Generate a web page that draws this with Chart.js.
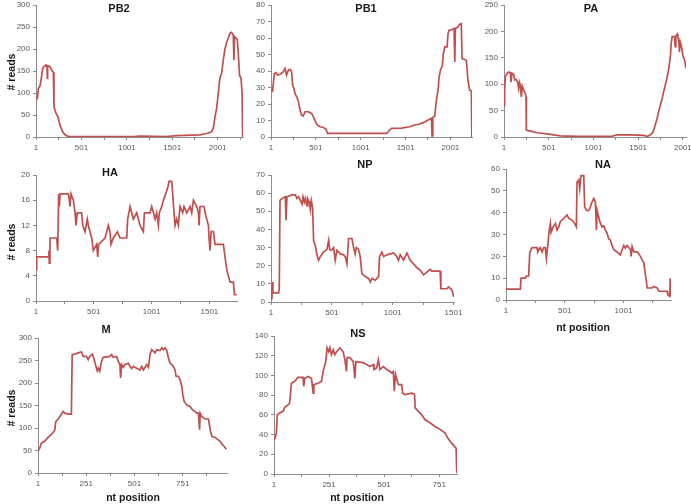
<!DOCTYPE html>
<html><head><meta charset="utf-8">
<script src="https://cdn.jsdelivr.net/npm/chart.js@4.4.1/dist/chart.umd.min.js"></script>
<style>
html,body{margin:0;padding:0;background:#fff;width:691px;height:504px;overflow:hidden;position:relative;}
canvas{position:absolute;}
</style></head><body>
<script>
// ---- data (nt position, # reads) ----
const pb2Pos = [1,16,27,45,60,74,89,111,122,126,129,155,173,192,199,221,243,265,295,320,357,1072,1146,1440,1550,1806,1880,1935,1953,1971,1990,2008,2026,2045,2063,2081,2100,2118,2136,2154,2173,2180,2187,2217,2231,2242,2258,2270,2276];
const pb2Reads = [85,88,110,116,134,156,160,164,158,133,162,160,152,147,69,54,46,27,12,5,1,1,2,1,3,5,8,12,20,45,65,100,135,145,175,200,215,225,236,238,232,175,228,222,180,140,134,100,0];

const pb1Pos = [1,19,38,57,75,101,138,157,175,194,213,231,242,257,268,287,305,324,342,361,380,417,454,472,491,517,546,584,613,632,1289,1307,1344,1456,1548,1604,1660,1697,1753,1790,1797,1805,1827,1845,1864,1875,1890,1912,1920,1938,1964,1975,1986,2012,2042,2050,2057,2086,2105,2123,2131,2179,2197,2216,2235,2240];
const pb1Reads = [29,28,38.5,39,37.5,38,39.5,41.5,37.5,40.5,41,39.5,31.4,29.4,26.4,24.4,22,16.3,13.3,12.7,15.3,15.3,14.3,12.3,9.9,7.3,6.2,5.8,4.8,2.2,2.2,3.2,5.2,5.4,6.2,7.3,7.9,8.7,10.3,11.3,0.6,11.9,12.7,22.4,28.4,36.5,40.5,43.5,49.6,54.6,54.6,62.7,64.7,65,65.7,45.5,65.7,66.7,68.3,68.7,47.6,46.5,34.5,28.4,28,0];

const paPos = [1,8,16,35,53,72,79,91,109,120,139,154,165,173,184,195,206,221,240,247,251,296,370,482,557,632,818,1191,1266,1415,1564,1602,1639,1669,1687,1713,1743,1769,1795,1818,1844,1863,1870,1881,1908,1915,1923,1937,1945,1956,1963,1971,1986,2001,2012,2023,2034];
const paReads = [60,89,114,120,123,122,104,121,119,108,109,103,92,104,98,76,96,89,82,76,13,11,8,6,4,2,1,1,4,4,3,1,4,10,20,35,57,73,92,108,130,155,177,190,190,171,191,195,190,180,161,180,171,155,149,145,130];

const haPos = [1,7,108,113,116,122,180,189,197,203,209,281,290,295,304,324,339,347,359,396,405,425,445,454,468,483,497,526,535,543,598,613,627,641,650,670,705,728,786,794,815,829,843,872,887,901,930,939,988,1002,1017,1031,1045,1060,1068,1089,1103,1123,1141,1152,1175,1184,1195,1204,1218,1233,1247,1270,1282,1305,1334,1348,1363,1392,1406,1412,1420,1455,1464,1478,1493,1498,1507,1516,1536,1550,1622,1651,1665,1680,1709,1717,1737];
const haReads = [5,7,7,8,6,10,10,8,17,15,17,17,16,15,17,16,14,12,14,14,12,11,13,12,11,10,8,9,7,9,10,11,12,11,9,10,11,10,10,13,15,14,13,14,13,12,11,14,14,15,14,13,14,12,14,15,16,17,18,19,19,17,14,12,13,12,15,14,15,14,15,14,16,15,14,12,15,15,14,13,12,10,8,11,11,9,9,5,4,3,3,1,1];

const npPos = [1,9,15,17,64,69,75,91,119,124,132,173,201,214,228,242,256,264,275,283,297,302,316,324,332,343,351,365,379,392,406,433,461,475,483,496,516,529,543,570,598,611,625,639,666,680,693,702,721,734,748,776,803,817,830,858,885,893,912,926,953,1008,1036,1049,1063,1090,1118,1145,1172,1200,1227,1255,1282,1309,1323,1391,1397,1446,1460,1479,1495,1501];
const npReads = [2,8,11,5,5,7,56,57,58,45,58,59,59,57,58,56,54,58,55,57,53,57,55,51,56,52,34,31,26,23,25,27.5,29,34,29,28.5,30,23,28.5,26.5,26,25,21,35,35,30,26.5,30,29,25,15.6,14,13,11,13,12,14,25,27.5,25,26,27,25,23,26,23,27,23,21,19,17.5,15,16.5,18,17,17,7.3,7.3,8.3,7.3,5.5,2.8];

const naPos = [1,123,129,166,174,194,203,214,223,265,271,294,308,322,336,345,356,367,379,385,402,422,436,450,464,492,521,535,563,586,600,606,620,629,640,663,671,686,706,720,734,748,762,771,777,791,799,819,833,848,862,876,890,904,919,947,975,990,1004,1018,1032,1061,1066,1075,1089,1118,1146,1160,1174,1189,1203,1245,1259,1288,1302,1373,1379,1396,1399,1404];
const naReads = [5,5,10,10,11,11,21.7,23,24,24,22,24,22,24,24,19,24.5,31,35,31,33.5,35,32,33.5,36,37.4,39,37.4,36.6,35,33.5,54,55,51,57,57,42.7,41,41,42.7,45,46.5,45,32,41,38,36,33.5,34,32,30.5,28,27.5,25,23,22,20.6,23,25,23.7,25,23,20,24.5,22,22,20,18.4,17,11.5,5.5,5.5,6.2,5.5,4,4,2.4,1.7,10,1.7];

const mPos = [1,10,18,36,53,70,79,88,93,105,114,131,140,157,174,178,192,209,226,235,252,261,269,283,292,301,308,313,321,330,339,373,382,391,408,417,425,429,434,443,451,469,477,486,495,512,529,538,547,564,573,581,590,599,607,616,633,642,651,659,668,677,685,694,702,711,716,728,737,746,751,758,772,789,798,824,832,838,841,850,867,884,893,902,919,928,945,954,966,976];
const mReads = [49,55,66,71,79,86,90,95,114,120,125,137,133,131,131,263,264,267,269,259,259,252,259,264,252,237,227,233,226,248,257,259,263,257,259,248,241,211,241,235,241,244,237,232,237,233,229,237,229,241,235,263,274,270,267,274,272,278,274,278,272,255,244,241,237,229,215,215,207,192,174,159,151,148,142,133,133,96,133,125,120,120,96,81,79,76,70,64,59,53];

const nsPos = [1,6,12,16,27,42,50,65,72,80,95,110,133,136,141,156,171,179,182,201,217,224,236,242,250,255,262,270,277,285,300,315,323,330,333,346,361,368,373,406,421,437,452,455,467,475,482,497,513,528,535,543,547,553,566,581,585,596,626,639,642,657,672,687,710,733,751,778,786,801,813,828,831];
const nsReads = [35,36.5,41.6,60,62,63.6,67.6,70,72,92,94,98,98,89,97,99,97,82,90.6,92,94,104,114,128,124,128,121,126,121,124,128,124,116,104,118,118,114,97,114,113,111,109,111,106,107.5,116,106,109,106,104,102.5,104,84,101,90.6,90.6,82,80.5,82,81,67,63.6,60,55,52,48,46,41.6,38,33,30,26,1];

// ---- panel layout ----
const panels = [
  {title:'PB2', pos:pb2Pos, reads:pb2Reads, xMax:2280, yMax:300, yStep:50, lab:500, tick:250, rect:[36,5,243,137], tx:[119,9], yLab:[12,72]},
  {title:'PB1', pos:pb1Pos, reads:pb1Reads, xMax:2242, yMax:80, yStep:10, lab:500, tick:250, rect:[271,5,472,137], tx:[366,9]},
  {title:'PA', pos:paPos, reads:paReads, xMax:2036, yMax:250, yStep:50, lab:500, tick:250, rect:[504,5,686,137], tx:[591,9]},
  {title:'HA', pos:haPos, reads:haReads, xMax:1740, yMax:20, yStep:4, lab:500, tick:250, rect:[36,175,237,301], tx:[110,173], yLab:[12,242]},
  {title:'NP', pos:npPos, reads:npReads, xMax:1505, yMax:70, yStep:10, lab:500, tick:250, rect:[271,175,454,302], tx:[365,165]},
  {title:'NA', pos:naPos, reads:naReads, xMax:1406, yMax:60, yStep:10, lab:500, tick:250, rect:[506,169,671,300], tx:[603,165], xLab:[583,328]},
  {title:'M', pos:mPos, reads:mReads, xMax:980, yMax:300, yStep:50, lab:250, tick:125, rect:[38,338,227,473], tx:[106,330], yLab:[12,408], xLab:[133,498]},
  {title:'NS', pos:nsPos, reads:nsReads, xMax:832, yMax:140, yStep:20, lab:250, tick:125, rect:[274,336,457,474], tx:[358,334], xLab:[357,498]}
];

const FONT = "'Liberation Sans', Arial, sans-serif";
const AXIS = '#8c8c8c', TXT = '#595959', LINE = '#c0504d';
const padT = 22, padR = 16, xH = 20, padB = 32, yW = 36;

const textPlugin = {
  id: 'panelText',
  afterDraw(chart, args, o) {
    const ctx = chart.ctx;
    ctx.save();
    ctx.fillStyle = '#1a1a1a';
    ctx.textAlign = 'center';
    ctx.textBaseline = 'middle';
    ctx.font = 'bold 11px ' + FONT;
    ctx.fillText(o.title, o.tx[0] - o.cl, o.tx[1] - o.ct);
    ctx.font = 'bold 10.5px ' + FONT;
    if (o.xLab) ctx.fillText('nt position', o.xLab[0] - o.cl, o.xLab[1] - o.ct);
    if (o.yLab) {
      ctx.translate(o.yLab[0] - o.cl, o.yLab[1] - o.ct);
      ctx.rotate(-Math.PI / 2);
      ctx.fillText('# reads', 0, 0);
    }
    ctx.restore();
  }
};

panels.forEach(p => {
  const [L, T, R, B] = p.rect;
  const cl = L - yW, ct = T - padT;
  const w = (R - L) + yW + padR, h = (B - T) + padT + xH + padB;
  const cv = document.createElement('canvas');
  cv.width = w; cv.height = h;
  cv.style.left = cl + 'px'; cv.style.top = ct + 'px';
  cv.style.width = w + 'px'; cv.style.height = h + 'px';
  document.body.appendChild(cv);
  const tickVals = [];
  for (let v = 1; v <= p.xMax; v += p.tick) tickVals.push(v);
  new Chart(cv, {
    type: 'line',
    data: { datasets: [{
      data: p.pos.map((x, i) => ({ x: x, y: p.reads[i] })),
      borderColor: LINE, borderWidth: 1.7, pointRadius: 0, tension: 0, fill: false
    }]},
    options: {
      responsive: false, animation: false, devicePixelRatio: 1,
      layout: { padding: { top: padT, right: padR, bottom: padB, left: 0 } },
      plugins: { legend: { display: false }, tooltip: { enabled: false }, title: { display: false },
        panelText: { title: p.title, tx: p.tx, xLab: p.xLab, yLab: p.yLab, cl: cl, ct: ct } },
      scales: {
        x: {
          type: 'linear', min: 1, max: p.xMax,
          afterBuildTicks: s => { s.ticks = tickVals.map(v => ({ value: v })); },
          afterFit: s => { s.height = xH; },
          ticks: { autoSkip: false, maxRotation: 0, color: TXT, font: { size: 8, family: FONT }, padding: 3,
            callback: v => ((v - 1) % p.lab === 0 ? String(v) : '') },
          grid: { drawOnChartArea: false, drawTicks: true, tickLength: 3, color: AXIS },
          border: { color: AXIS, width: 1 }
        },
        y: {
          min: 0, max: p.yMax,
          afterFit: s => { s.width = yW; },
          ticks: { stepSize: p.yStep, color: TXT, font: { size: 8, family: FONT }, padding: 3 },
          grid: { drawOnChartArea: false, drawTicks: true, tickLength: 3, color: AXIS },
          border: { color: AXIS, width: 1 }
        }
      }
    },
    plugins: [textPlugin]
  });
});
</script>
</body></html>
